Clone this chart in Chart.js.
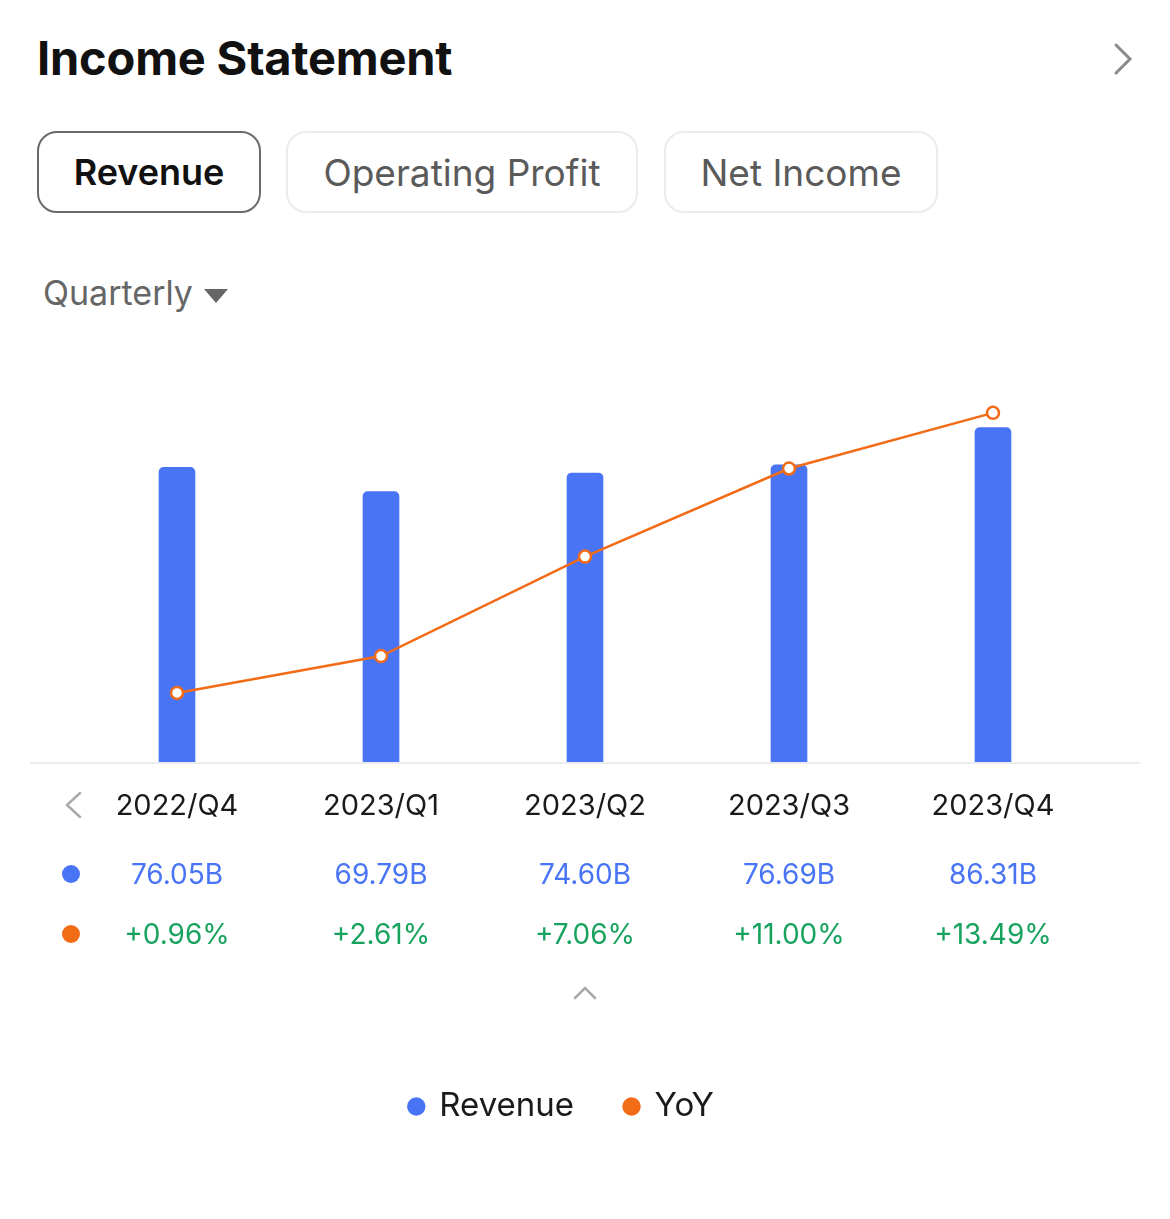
<!DOCTYPE html>
<html>
<head>
<meta charset="utf-8">
<script src="https://cdn.jsdelivr.net/npm/chart.js@4"></script>
<style>
  html, body { margin: 0; padding: 0; background: #fff; }
  body { width: 1170px; height: 1219px; position: relative; overflow: hidden; font-family: Inter, "Noto Sans", sans-serif; }
  .title { position: absolute; left: 37px; top: 29px; font-size: 47px; font-weight: 700; color: #111; letter-spacing: -0.2px; }
  .more { position: absolute; left: 1108px; top: 40px; }
  .tab { position: absolute; top: 131px; height: 82px; box-sizing: border-box; border-radius: 20px;
         display: flex; align-items: center; justify-content: center; font-size: 37px; }
  .tab.active { border: 2.5px solid #6a6a6a; color: #111; font-weight: 600; font-size: 36px; }
  .tab.idle { border: 2.5px solid #ebebef; color: #5a5a5a; }
  .period { position: absolute; left: 43px; top: 272px; font-size: 34px; color: #666; }
  .period svg { margin-left: 10px; vertical-align: middle; }
  .chart-box { position: absolute; left: 0; top: 340px; width: 1170px; height: 879px; }
</style>
</head>
<body>
<div class="title">Income Statement</div>
<svg class="more" width="30" height="40" viewBox="0 0 30 40"><polyline points="8,5 22,19 8,33" fill="none" stroke="#8a8a8a" stroke-width="3" stroke-linecap="round"/></svg>
<div class="tab active" style="left:37px;width:224px;">Revenue</div>
<div class="tab idle" style="left:286px;width:352px;">Operating Profit</div>
<div class="tab idle" style="left:664px;width:274px;">Net Income</div>
<div class="period">Quarterly<svg width="26" height="18" viewBox="0 0 26 18"><polygon points="1,2 25,2 13,16" fill="#666"/></svg></div>
<div class="chart-box"><canvas id="incomeChart"></canvas></div>

<script>
// quarterly revenue (billions) and year-over-year growth (%)
const quarters = ['2022/Q4', '2023/Q1', '2023/Q2', '2023/Q3', '2023/Q4'];
const revenue = [76.05, 69.79, 74.60, 76.69, 86.31];
const yoy = [0.96, 2.61, 7.06, 11.00, 13.49];
const revenueLabels = ['76.05B', '69.79B', '74.60B', '76.69B', '86.31B'];
const yoyLabels = ['+0.96%', '+2.61%', '+7.06%', '+11.00%', '+13.49%'];

const BLUE = '#4874f5';
const ORANGE = '#f26b16';
const GREEN = '#17a35f';
const FONT = 'Inter, "Noto Sans", sans-serif';

// baseline, value rows and the little arrows under the chart
const tablePlugin = {
    id: 'tableRows',
    beforeDatasetsDraw(chart) {
        const ctx = chart.ctx;
        const bottom = chart.chartArea.bottom;
        ctx.save();
        ctx.strokeStyle = '#ececec';
        ctx.lineWidth = 2;
        ctx.beginPath();
        ctx.moveTo(30, bottom + 1);
        ctx.lineTo(1140, bottom + 1);
        ctx.stroke();
        ctx.restore();
    },
    afterDraw(chart) {
        const ctx = chart.ctx;
        const x = chart.scales.x;
        const base = chart.chartArea.bottom;
        const row1 = base + 114;
        const row2 = base + 174;
        ctx.save();
        ctx.font = '28px ' + FONT;
        ctx.textAlign = 'center';
        ctx.textBaseline = 'middle';
        quarters.forEach(function(q, i) {
            const px = x.getPixelForValue(i);
            ctx.fillStyle = BLUE;
            ctx.fillText(revenueLabels[i], px, row1);
            ctx.fillStyle = GREEN;
            ctx.fillText(yoyLabels[i], px, row2);
        });
        // row markers
        ctx.fillStyle = BLUE;
        ctx.beginPath(); ctx.arc(71, base + 112, 9, 0, Math.PI * 2); ctx.fill();
        ctx.fillStyle = ORANGE;
        ctx.beginPath(); ctx.arc(71, base + 172, 9, 0, Math.PI * 2); ctx.fill();
        // left arrow next to the labels
        ctx.strokeStyle = '#aaaaaa';
        ctx.lineWidth = 2.5;
        ctx.lineCap = 'round';
        ctx.beginPath();
        ctx.moveTo(80, base + 31); ctx.lineTo(67, base + 43); ctx.lineTo(80, base + 55);
        ctx.stroke();
        // collapse caret
        const cx = x.getPixelForValue(2);
        ctx.beginPath();
        ctx.moveTo(cx - 10, base + 236); ctx.lineTo(cx, base + 226); ctx.lineTo(cx + 10, base + 236);
        ctx.stroke();
        ctx.restore();
    }
};

new Chart(document.getElementById('incomeChart'), {
    data: {
        labels: quarters,
        datasets: [
            {
                type: 'bar',
                label: 'Revenue',
                data: revenue,
                backgroundColor: BLUE,
                barThickness: 36,
                borderRadius: { topLeft: 5, topRight: 5 },
                borderSkipped: 'bottom',
                yAxisID: 'y',
                order: 2
            },
            {
                type: 'line',
                label: 'YoY',
                data: yoy,
                borderColor: ORANGE,
                borderWidth: 2.5,
                pointRadius: 6,
                pointBorderWidth: 2.5,
                pointBackgroundColor: '#fff',
                pointBorderColor: ORANGE,
                tension: 0,
                yAxisID: 'y2',
                order: 1
            }
        ]
    },
    options: {
        responsive: true,
        maintainAspectRatio: false,
        animation: false,
        layout: { padding: { top: 40, left: 75, right: 75, bottom: 86 } },
        plugins: {
            tooltip: { enabled: false },
            legend: {
                position: 'bottom',
                labels: {
                    usePointStyle: true,
                    boxWidth: 13,
                    boxHeight: 13,
                    padding: 51,
                    color: '#1a1a1a',
                    font: { family: FONT, size: 33 },
                    generateLabels: function(chart) {
                        // trailing spaces nudge the centred legend a little left, as in the app
                        return [
                            { text: 'Revenue', fillStyle: BLUE, strokeStyle: BLUE, lineWidth: 0, pointStyle: 'circle', fontColor: '#1a1a1a', datasetIndex: 0 },
                            { text: 'YoY\u00a0\u00a0\u00a0\u00a0\u00a0', fillStyle: ORANGE, strokeStyle: ORANGE, lineWidth: 0, pointStyle: 'circle', fontColor: '#1a1a1a', datasetIndex: 1 }
                        ];
                    }
                }
            }
        },
        scales: {
            x: {
                offset: true,
                grid: { display: false, drawTicks: false },
                border: { display: false },
                ticks: { color: '#1a1a1a', padding: 27, font: { family: FONT, size: 29 } },
                afterFit: function(scale) { scale.height = 277; }
            },
            y: { display: false, min: 0, max: 98.6 },
            y2: { display: false, min: -2.13, max: 14.96 }
        }
    },
    plugins: [tablePlugin]
});
</script>
</body>
</html>
